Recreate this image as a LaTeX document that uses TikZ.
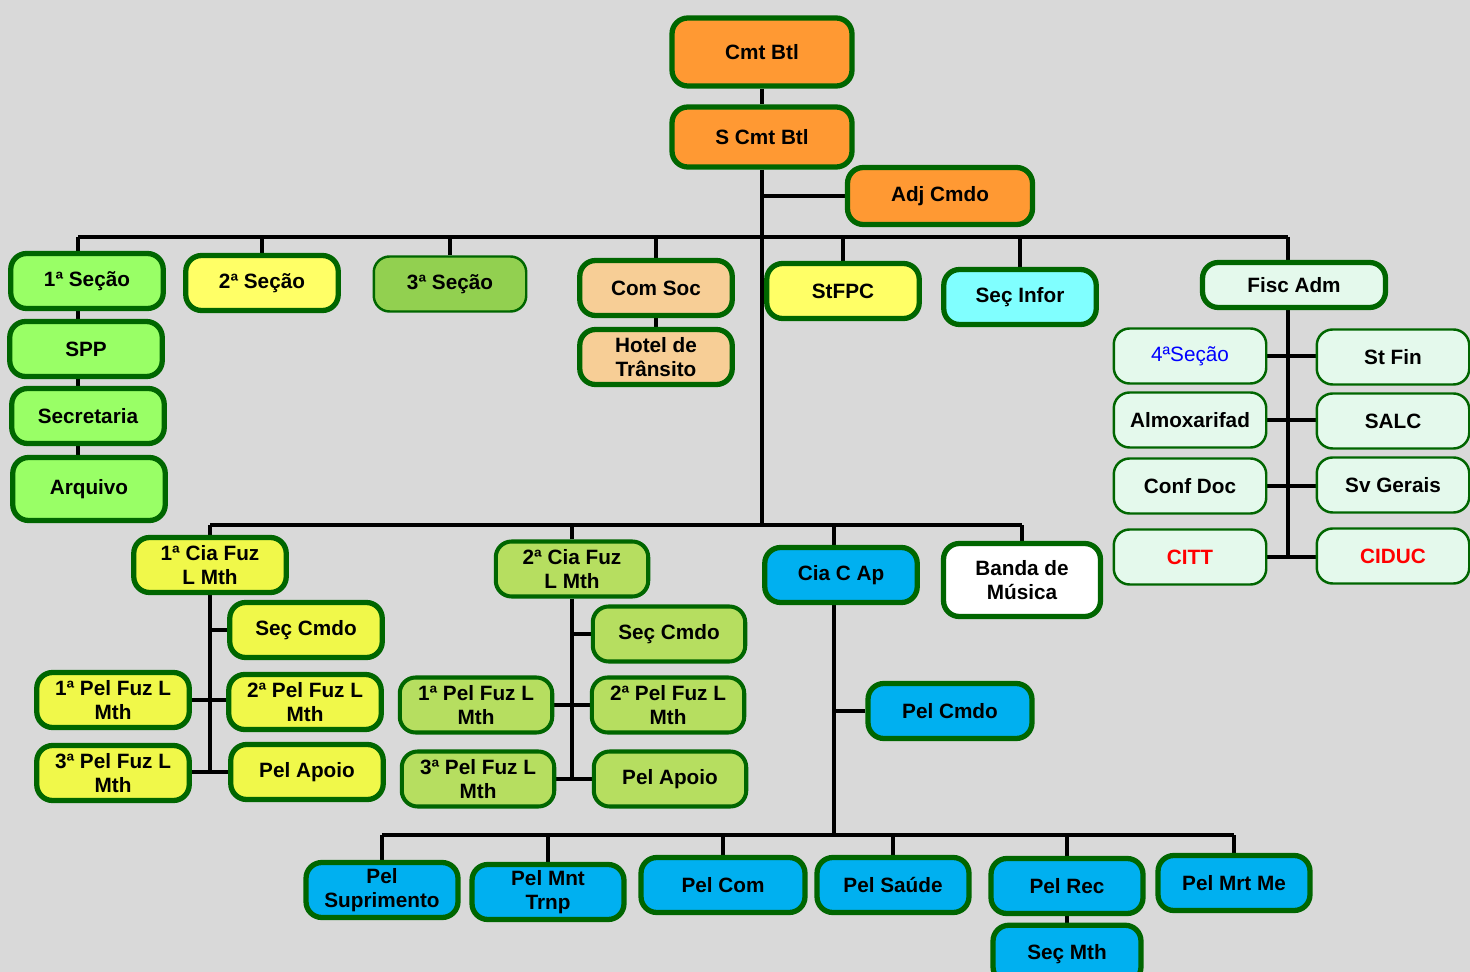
\documentclass[tikz,border=0pt]{standalone}
\usepackage{fontspec}
\setmainfont{Liberation Sans}
\usepackage{xcolor}
\usepackage{tikz}
\usetikzlibrary{positioning, backgrounds}
\definecolor{EBGreen}{RGB}{0,102,0}
\definecolor{EBGray}{RGB}{217,217,217}
\definecolor{EBOrange}{RGB}{255,153,51}
\definecolor{EBLime}{RGB}{153,255,102}
\definecolor{EBYellow}{RGB}{255,255,102}
\definecolor{EBOlive}{RGB}{146,208,80}
\definecolor{EBPeach}{RGB}{247,206,150}
\definecolor{EBCyan}{RGB}{128,255,255}
\definecolor{EBMint}{RGB}{228,249,236}
\definecolor{EBCiaA}{RGB}{240,248,74}
\definecolor{EBCiaB}{RGB}{182,222,96}
\definecolor{EBBlue}{RGB}{0,176,240}
\definecolor{EBTextBlue}{RGB}{0,0,255}
\definecolor{EBRed}{RGB}{255,0,0}

\begin{document}
\begin{tikzpicture}[x=0.02cm, y=-0.02cm,
            box/.style={rectangle, draw=EBGreen, line width=3pt, rounded corners=9pt,
                        minimum width=3.05cm, minimum height=1.1cm, inner sep=1pt,
                        font=\bfseries\fontsize{11.8}{14}\selectfont, align=center},
            mid/.style={line width=2.3pt},
            thin/.style={line width=1.4pt},
            wire/.style={draw=black, line width=2.5pt}
          ]
          \useasboundingbox (0,0) rectangle (1470,972);
          % Command
          \node[box, fill=EBOrange, minimum width=3.6cm, minimum height=1.36cm] (cmt) at (762,52) {Cmt Btl};
          \node[box, fill=EBOrange, minimum width=3.6cm, minimum height=1.2cm] (scmt) at (762,137) {S Cmt Btl};
          \node[box, fill=EBOrange, minimum width=3.7cm, minimum height=1.14cm] (adj) at (940,196) {Adj Cmdo};
          % Staff sections
          \node[box, fill=EBLime] (sec1) at (87,281) {1ª Seção};
          \node[box, fill=EBLime] (spp) at (86,349) {SPP};
          \node[box, fill=EBLime] (secr) at (88,416) {Secretaria};
          \node[box, fill=EBLime, minimum height=1.26cm] (arq) at (89,489) {Arquivo};
          \node[box, fill=EBYellow] (sec2) at (262,283) {2ª Seção};
          \node[box, thin, fill=EBOlive] (sec3) at (450,284) {3ª Seção};
          \node[box, fill=EBPeach] (comsoc) at (656,288) {Com Soc};
          \node[box, fill=EBPeach] (hotel) at (656,357) {Hotel de\\Trânsito};
          \node[box, fill=EBYellow] (stfpc) at (843,291) {StFPC};
          \node[box, fill=EBCyan] (secinf) at (1020,297) {Seç Infor};
          % Fisc Adm
          \node[box, fill=EBMint, minimum width=3.66cm, minimum height=0.9cm] (fisc) at (1294,285) {Fisc Adm};
          \foreach \n/\t/\y in {sec4/{\mdseries\color{EBTextBlue}4ªSeção}/356, almox/Almoxarifad/420,
                                confdoc/Conf Doc/486, citt/{\color{EBRed}CITT}/557} {
            \node[box, thin, fill=EBMint] (\n) at (1190,\y) {\t};
          }
          \foreach \n/\t/\y in {stfin/St Fin/357, salc/SALC/421, svger/Sv Gerais/485,
                                ciduc/{\color{EBRed}CIDUC}/556} {
            \node[box, thin, fill=EBMint] (\n) at (1393,\y) {\t};
          }
          % 1a Cia
          \node[box, fill=EBCiaA] (cia1) at (210,565) {1ª Cia Fuz\\L Mth};
          \node[box, fill=EBCiaA] (sc1) at (306,630) {Seç Cmdo};
          \node[box, fill=EBCiaA] (pf11) at (113,700) {1ª Pel Fuz L\\Mth};
          \node[box, fill=EBCiaA] (pf12) at (305,702) {2ª Pel Fuz L\\Mth};
          \node[box, fill=EBCiaA] (pf13) at (113,773) {3ª Pel Fuz L\\Mth};
          \node[box, fill=EBCiaA] (pa1) at (307,772) {Pel Apoio};
          % 2a Cia
          \node[box, mid, fill=EBCiaB] (cia2) at (572,569) {2ª Cia Fuz\\L Mth};
          \node[box, mid, fill=EBCiaB] (sc2) at (669,634) {Seç Cmdo};
          \node[box, mid, fill=EBCiaB] (pf21) at (476,705) {1ª Pel Fuz L\\Mth};
          \node[box, mid, fill=EBCiaB] (pf22) at (668,705) {2ª Pel Fuz L\\Mth};
          \node[box, mid, fill=EBCiaB] (pf23) at (478,779) {3ª Pel Fuz L\\Mth};
          \node[box, mid, fill=EBCiaB] (pa2) at (670,779) {Pel Apoio};
          % Cia C Ap and Banda
          \node[box, fill=EBBlue] (cca) at (841,575) {Cia C Ap};
          \node[box, fill=EBBlue, minimum width=3.28cm] (pcmdo) at (950,711) {Pel Cmdo};
          \node[box, fill=white, minimum width=3.14cm, minimum height=1.46cm] (banda) at (1022,580) {Banda de\\Música};
          \foreach \n/\x/\y/\w/\t in {psup/382/890/3.04/{Pel\\Suprimento}, pmnt/548/892/3.04/{Pel Mnt\\Trnp},
                                      pcom/723/885/3.28/Pel Com, psau/893/885/3.04/Pel Saúde,
                                      prec/1067/886/3.04/Pel Rec, pmrt/1234/883/3.04/Pel Mrt Me} {
            \node[box, fill=EBBlue, minimum width=\w cm] (\n) at (\x,\y) {\t};
          }
          \node[box, fill=EBBlue, minimum width=2.96cm, minimum height=1.15cm] (secmth) at (1067,954) {Seç Mth};
          % Connectors
          \coordinate (topL) at (78,237);
          \coordinate (topR) at (1288,237);
          \coordinate (midL) at (210,525);
          \coordinate (midR) at (1022,525);
          \coordinate (capT) at (834,525);
          \coordinate (botL) at (382,835);
          \coordinate (botR) at (1234,835);
          \begin{scope}[on background layer]
            \fill[EBGray] (0,0) rectangle (1470,972);
            \draw[wire] (cmt.south) -- (scmt.north);
            \draw[wire] (scmt.south) -- (scmt.south |- midL);
            \draw[wire] (adj.west) -- (adj.west -| scmt.south);
            \draw[wire] (topL) -- (topR);
            \draw[wire] (topL) -- (topL |- arq.north);
            \foreach \n in {sec2, sec3, comsoc, stfpc, secinf}
              \draw[wire] (\n.north) -- (\n.north |- topL);
            \draw[wire] (comsoc.south) -- (hotel.north);
            \draw[wire] (topR) -- (topR |- citt.east);
            \foreach \a/\b in {sec4/stfin, almox/salc, confdoc/svger, citt/ciduc}
              \draw[wire] (\a.east) -- (\a.east -| \b.west);
            \draw[wire] (midL) -- (midR);
            \foreach \n in {cia1, cia2, banda}
              \draw[wire] (\n.north) -- (\n.north |- midL);
            \draw[wire] (cia1.south) -- (cia1.south |- pa1.west);
            \draw[wire] (sc1.west) -- (sc1.west -| cia1.south);
            \draw[wire] (pf11.east) -- (pf11.east -| pf12.west);
            \draw[wire] (pa1.west) -- (pa1.west -| pf13.east);
            \draw[wire] (cia2.south) -- (cia2.south |- pa2.west);
            \draw[wire] (sc2.west) -- (sc2.west -| cia2.south);
            \draw[wire] (pf21.east) -- (pf22.west);
            \draw[wire] (pf23.east) -- (pa2.west);
            \draw[wire] (capT) -- (capT |- botL);
            \draw[wire] (pcmdo.west) -- (pcmdo.west -| capT);
            \draw[wire] (botL) -- (botR);
            \foreach \n in {psup, pmnt, pcom, psau, prec, pmrt}
              \draw[wire] (\n.north) -- (\n.north |- botL);
            \draw[wire] (prec.south) -- (secmth.north);
          \end{scope}
        \end{tikzpicture}
\end{document}
